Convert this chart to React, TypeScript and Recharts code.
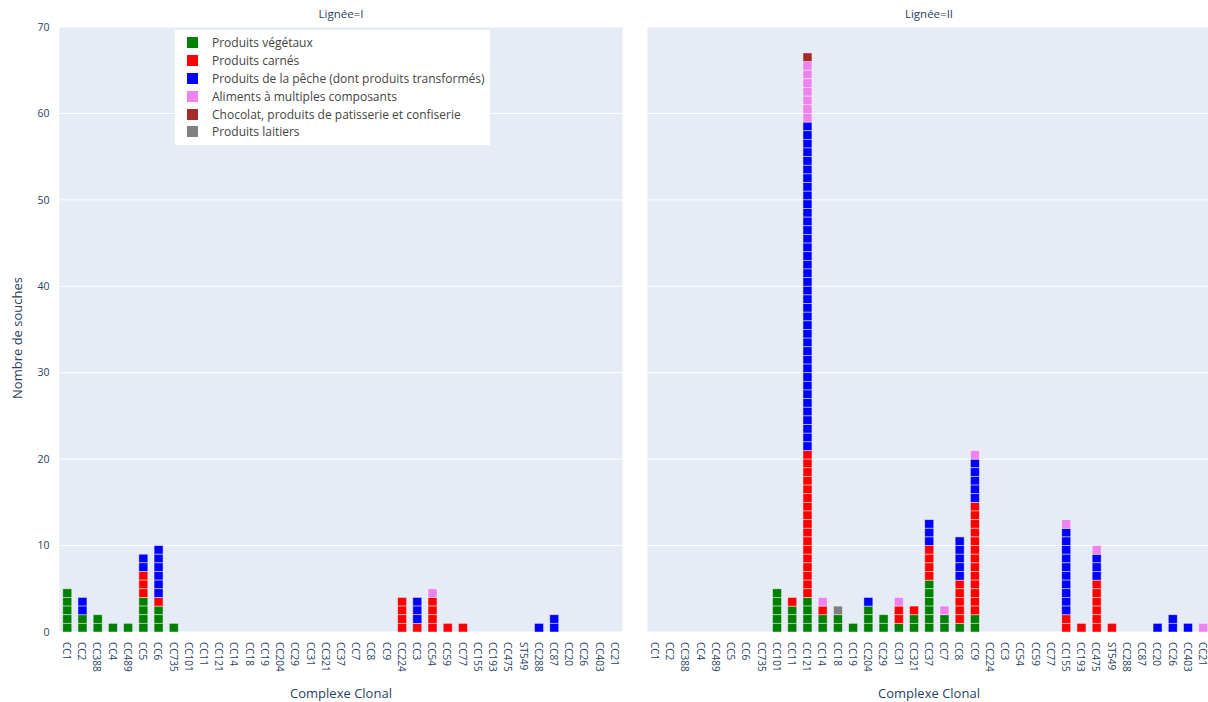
import React from "react";
import { BarChart, Bar, XAxis, YAxis, CartesianGrid } from "recharts";

const categories = [
  "CC1", "CC2", "CC388", "CC4", "CC489", "CC5", "CC6", "CC735",
  "CC101", "CC11", "CC121", "CC14", "CC18", "CC19", "CC204", "CC29",
  "CC31", "CC321", "CC37", "CC7", "CC8", "CC9",
  "CC224", "CC3", "CC54", "CC59", "CC77",
  "CC155", "CC193", "CC475", "ST549",
  "CC288", "CC87",
  "CC20", "CC26", "CC403", "CC21",
];

const products = [
  { key: "veg", name: "Produits végétaux", color: "#008000" },
  { key: "carn", name: "Produits carnés", color: "#ff0000" },
  { key: "peche", name: "Produits de la pêche (dont produits transformés)", color: "#0000ff" },
  { key: "multi", name: "Aliments à multiples composants", color: "#ee82ee" },
  { key: "choco", name: "Chocolat, produits de patisserie et confiserie", color: "#a52a2a" },
  { key: "lait", name: "Produits laitiers", color: "#808080" },
];

// Lignée I counts per clonal complex
const vegI: Record<string, number> = { CC1: 5, CC2: 2, CC388: 2, CC4: 1, CC489: 1, CC5: 4, CC6: 3, CC735: 1 };
const carnI: Record<string, number> = { CC5: 3, CC6: 1, CC224: 4, CC3: 1, CC54: 4, CC59: 1, CC77: 1 };
const pecheI: Record<string, number> = { CC2: 2, CC5: 2, CC6: 6, CC3: 3, CC288: 1, CC87: 2 };
const multiI: Record<string, number> = { CC54: 1 };
const chocoI: Record<string, number> = {};
const laitI: Record<string, number> = {};

// Lignée II counts per clonal complex
const vegII: Record<string, number> = {
  CC101: 5, CC11: 3, CC121: 4, CC14: 2, CC18: 2, CC19: 1, CC204: 3, CC29: 2,
  CC31: 1, CC321: 2, CC37: 6, CC7: 2, CC8: 1, CC9: 2,
};
const carnII: Record<string, number> = {
  CC11: 1, CC121: 17, CC14: 1, CC31: 2, CC321: 1, CC37: 4, CC8: 5, CC9: 13,
  CC155: 2, CC193: 1, CC475: 6, ST549: 1,
};
const pecheII: Record<string, number> = {
  CC121: 38, CC204: 1, CC37: 3, CC8: 5, CC9: 5, CC155: 10, CC475: 3, CC20: 1, CC26: 2, CC403: 1,
};
const multiII: Record<string, number> = { CC121: 7, CC14: 1, CC31: 1, CC7: 1, CC9: 1, CC155: 1, CC475: 1, CC21: 1 };
const chocoII: Record<string, number> = { CC121: 1 };
const laitII: Record<string, number> = { CC18: 1 };

const yTicks = [0, 10, 20, 30, 40, 50, 60, 70];

const buildRows = (sets: Record<string, number>[]) =>
  categories.map((cc) => {
    const row: Record<string, any> = { cc };
    products.forEach((p, i) => {
      row[p.key] = sets[i][cc] || 0;
    });
    return row;
  });

const dataI = buildRows([vegI, carnI, pecheI, multiI, chocoI, laitI]);
const dataII = buildRows([vegII, carnII, pecheII, multiII, chocoII, laitII]);

const FONT = '"Open Sans", verdana, arial, sans-serif';
const TXT = "#2a3f5f";

// each strain is drawn as its own block, like the plotly original
const UnitBar = (props: any) => {
  const { x, y, width, height, fill, payload, dataKey } = props;
  const n = payload ? payload[dataKey] : 0;
  if (!n || !height) return null;
  const h = height / n;
  return (
    <g>
      {Array.from({ length: n }, (_, i) => (
        <rect
          key={i}
          x={x}
          y={y + i * h}
          width={width}
          height={h}
          fill={fill}
          stroke="#ffffff"
          strokeOpacity={0.55}
          strokeWidth={0.8}
        />
      ))}
    </g>
  );
};

const XTick = (props: any) => {
  const { x, y, payload } = props;
  return (
    <text
      transform={`translate(${x},${y + 2}) rotate(90)`}
      textAnchor="start"
      dominantBaseline="central"
      fontSize={10}
      fontFamily={FONT}
      fill={TXT}
    >
      {payload.value}
    </text>
  );
};

function Panel({ data, width, margin, showY }: { data: any[]; width: number; margin: any; showY: boolean }) {
  return (
    <BarChart width={width} height={702} data={data} margin={margin} barCategoryGap="22%">
      <CartesianGrid vertical={false} stroke="#ffffff" fill="#e5ecf6" strokeWidth={1} />
      <XAxis
        dataKey="cc"
        interval={0}
        height={70}
        tick={<XTick />}
        tickLine={false}
        axisLine={false}
      />
      <YAxis
        hide={!showY}
        width={59.4}
        domain={[0, 70]}
        ticks={yTicks}
        tickLine={false}
        axisLine={false}
        tick={{ fontSize: 10.5, fill: TXT, fontFamily: FONT }}
        tickMargin={4}
        allowDataOverflow
      />
      {products.map((p) => (
        <Bar
          key={p.key}
          dataKey={p.key}
          stackId="a"
          fill={p.color}
          shape={<UnitBar />}
          isAnimationActive={false}
        />
      ))}
    </BarChart>
  );
}

export default function App() {
  const text = (content: string, style: React.CSSProperties) => (
    <div style={{ position: "absolute", fontFamily: FONT, color: TXT, whiteSpace: "nowrap", ...style }}>
      {content}
    </div>
  );
  return (
    <div
      style={{
        position: "fixed",
        left: 0,
        top: 0,
        width: 1208,
        height: 702,
        overflow: "hidden",
        background: "#ffffff",
      }}
    >
      <div style={{ position: "absolute", left: 0, top: 0 }}>
        <Panel data={dataI} width={630} margin={{ top: 27, right: 7.5, bottom: 0, left: 0 }} showY />
      </div>
      <div style={{ position: "absolute", left: 640, top: 0 }}>
        <Panel data={dataII} width={580} margin={{ top: 27, right: 9.4, bottom: 0, left: 7.4 }} showY={false} />
      </div>

      {text("Lignée=I", { left: 341, top: 6, fontSize: 11.5, transform: "translateX(-50%)" })}
      {text("Lignée=II", { left: 929, top: 6, fontSize: 11.5, transform: "translateX(-50%)" })}
      {text("Complexe Clonal", { left: 341, top: 684, fontSize: 13, transform: "translateX(-50%)" })}
      {text("Complexe Clonal", { left: 929, top: 684, fontSize: 13, transform: "translateX(-50%)" })}
      {text("Nombre de souches", {
        left: 17,
        top: 338,
        fontSize: 13,
        transform: "translate(-50%, -50%) rotate(-90deg)",
      })}

      <div
        style={{
          position: "absolute",
          left: 175,
          top: 30,
          width: 315,
          height: 115,
          background: "#ffffff",
          boxSizing: "border-box",
          paddingTop: 4,
        }}
      >
        {products.map((p) => (
          <div key={p.key} style={{ display: "flex", alignItems: "center", height: 17.8 }}>
            <div style={{ width: 11, height: 11, background: p.color, marginLeft: 12, marginRight: 14 }} />
            <span style={{ fontFamily: FONT, fontSize: 12, color: "#444" }}>{p.name}</span>
          </div>
        ))}
      </div>
    </div>
  );
}
